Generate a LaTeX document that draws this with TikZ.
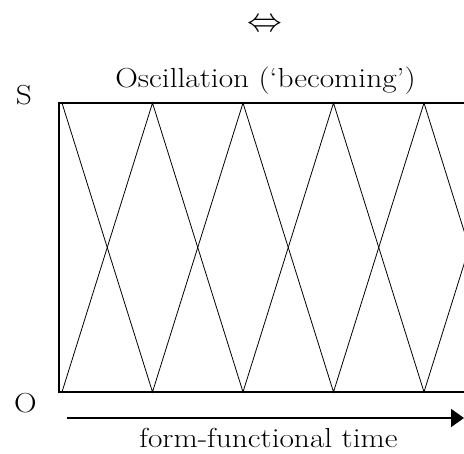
\documentclass[tikz,border=0pt]{standalone}
\usetikzlibrary{arrows.meta}
\begin{document}
\begin{tikzpicture}[x=1pt,y=1pt,
  lbl/.style={inner sep=0pt,font=\fontsize{27.5}{32}\selectfont,xscale=1.14},
  frame/.style={line width=1.6pt},
  wave/.style={line width=0.8pt,line join=miter}]
\useasboundingbox (0,0) rectangle (464,454);
\begin{scope}
\clip (0,0) rectangle (464,454);
% frame (open to the right, cut by the picture edge)
\coordinate (tl) at (59,351);
\coordinate (bl) at (59,62);
\coordinate (tr) at (480,351);
\coordinate (br) at (480,62);
\draw[frame] (tr) -- (tl) -- (bl) -- (br);
% two opposite zigzags
\draw[wave] (62,351) -- (152.5,62) -- (243,351) -- (333.5,62) -- (424,351) -- (514.5,62);
\draw[wave] (62,62) -- (152.5,351) -- (243,62) -- (333.5,351) -- (424,62) -- (514.5,351);
% time arrow
\coordinate (a0) at (67,36);
\coordinate (a1) at (464,36);
\draw[line width=1.8pt,-{Triangle[length=13pt,width=18pt]}] (a0) -- (a1);
\end{scope}
\node[inner sep=0pt,font=\fontsize{24.88}{30}\selectfont] (sym) at (264.5,429) {\scalebox{1.4}[1.35]{$\Leftrightarrow$}};
\node[lbl,anchor=base] (title) at (265.5,366) {Oscillation (`becoming')};
\node[lbl,anchor=base] (S) at (24,349) {S};
\node[lbl,anchor=base] (O) at (25.5,41) {O};
\node[lbl,anchor=base] (time) at (268.5,6) {form-functional time};
\end{tikzpicture}
\end{document}
